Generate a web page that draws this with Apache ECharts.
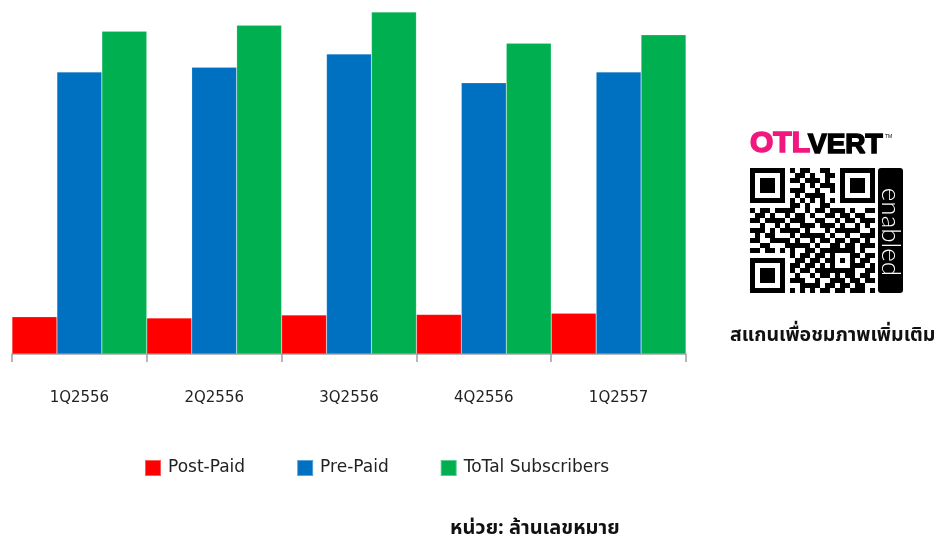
<!DOCTYPE html>
<html>
<head>
<meta charset="utf-8">
<title>Subscribers</title>
<script src="https://cdn.jsdelivr.net/npm/echarts@6/dist/echarts.min.js"></script>
<style>
  html, body { margin: 0; padding: 0; background: #fff; }
  #main { width: 935px; height: 538px; }
</style>
</head>
<body>
<div id="main"></div>
<script>
  // quarters (Thai Buddhist years)
  const quarters = ['1Q2556', '2Q2556', '3Q2556', '4Q2556', '1Q2557'];
  // millions of numbers
  const postPaid = [3.1, 3.0, 3.25, 3.3, 3.4];
  const prePaid = [23.5, 23.9, 25.0, 22.6, 23.5];
  const totalSubs = [26.9, 27.4, 28.5, 25.9, 26.6];

  // qr decoration pattern (25 x 25)
  const qrRows = [
    '1111111' + '0' + '101100110' + '0' + '1111111',
    '1000001' + '0' + '011010011' + '0' + '1000001',
    '1011101' + '0' + '110111010' + '0' + '1011101',
    '1011101' + '0' + '001010111' + '0' + '1011101',
    '1011101' + '0' + '111001001' + '0' + '1011101',
    '1000001' + '0' + '010111100' + '0' + '1000001',
    '1111111' + '0' + '101010101' + '0' + '1111111',
    '00000000' + '110100110' + '00000000',
    '1011011110010110111010011',
    '0110100101101001101101100',
    '1101111011100110010110111',
    '0010010100111011101001010',
    '1110101111010001011111001',
    '0101100010111110100100111',
    '1100111101001011011011010',
    '0011000111110100110110111',
    '1101101010011011' + '11111' + '0100',
    '00000000' + '10110110' + '10001' + '1011',
    '1111111' + '0' + '01101101' + '10101' + '0110',
    '1000001' + '0' + '11011010' + '10001' + '1101',
    '1011101' + '0' + '10110111' + '11111' + '0011',
    '1011101' + '0' + '01001011' + '010110110',
    '1011101' + '0' + '11100100' + '111011011',
    '1000001' + '0' + '00111101' + '101101100',
    '1111111' + '0' + '10101011' + '011011101'
  ];

  const thaiFont = '"Noto Sans Thai", "Tahoma", "DejaVu Sans", "Noto Sans", sans-serif';
  const labelFont = '"DejaVu Sans", "Noto Sans", sans-serif';
  const logoFont = '"Liberation Sans", Arial, sans-serif';

  const qrCells = [];
  qrRows.forEach(function (row, r) {
    for (let c = 0; c < row.length; c++) {
      if (row[c] === '1') {
        qrCells.push({
          type: 'rect',
          shape: { x: 750 + c * 5, y: 168 + r * 5, width: 5, height: 5 },
          style: { fill: '#000' },
          silent: true
        });
      }
    }
  });

  const chart = echarts.init(document.getElementById('main'));
  chart.setOption({
    animation: false,
    backgroundColor: '#fff',
    grid: { left: 12, right: 249, top: 6, bottom: 184 },
    legend: {
      left: 139,
      top: 454,
      icon: 'rect',
      itemWidth: 16,
      itemHeight: 16,
      itemGap: 51,
      textStyle: { fontSize: 17, color: '#222', fontFamily: labelFont, padding: [0, 0, 0, 2] },
      data: ['Post-Paid', 'Pre-Paid', 'ToTal Subscribers']
    },
    xAxis: {
      type: 'category',
      data: quarters,
      axisLine: { lineStyle: { color: '#a0a0a0', width: 1.5 } },
      axisTick: { show: true, length: 8, interval: 0, lineStyle: { color: '#a0a0a0', width: 1.5 } },
      axisLabel: { margin: 37, fontSize: 15, color: '#222', fontFamily: labelFont }
    },
    yAxis: {
      type: 'value',
      min: 0,
      max: 29,
      show: false,
      splitLine: { show: false }
    },
    series: [
      {
        name: 'Post-Paid', type: 'bar', data: postPaid,
        barGap: '0%', barCategoryGap: '0%',
        itemStyle: { color: '#ff0000', borderColor: 'rgba(255,255,255,0.35)', borderWidth: 0.5 }
      },
      {
        name: 'Pre-Paid', type: 'bar', data: prePaid,
        barGap: '0%', barCategoryGap: '0%',
        itemStyle: { color: '#0070c0', borderColor: 'rgba(255,255,255,0.35)', borderWidth: 0.5 }
      },
      {
        name: 'ToTal Subscribers', type: 'bar', data: totalSubs,
        barGap: '0%', barCategoryGap: '0%',
        itemStyle: { color: '#00b050', borderColor: 'rgba(255,255,255,0.35)', borderWidth: 0.5 }
      }
    ],
    graphic: [
      {
        type: 'text', x: 750, y: 159, silent: true,
        style: {
          text: 'OTL', fill: '#f0187f', stroke: '#f0187f', lineWidth: 1.6,
          fontSize: 30, fontWeight: 'bold', fontFamily: logoFont,
          align: 'left', verticalAlign: 'bottom'
        }
      },
      {
        type: 'text', x: 808, y: 159, silent: true,
        style: {
          text: 'VERT', fill: '#000', stroke: '#000', lineWidth: 1.6,
          fontSize: 28, fontWeight: 'bold', fontFamily: logoFont,
          align: 'left', verticalAlign: 'bottom'
        }
      },
      {
        type: 'text', left: 885, top: 134, silent: true,
        style: { text: 'TM', fill: '#000', fontSize: 5, fontFamily: 'Arial, sans-serif' }
      },
      {
        type: 'group', silent: true, children: qrCells
      },
      {
        type: 'rect', silent: true,
        shape: { x: 878, y: 168, width: 25, height: 125, r: 3 },
        style: { fill: '#000' }
      },
      {
        type: 'text', silent: true,
        x: 890.5, y: 232, rotation: -Math.PI / 2,
        style: {
          text: 'enabled', fill: '#fff', fontSize: 26, fontWeight: 300,
          fontFamily: 'Lato, "Open Sans", sans-serif',
          align: 'center', verticalAlign: 'middle'
        }
      },
      {
        type: 'text', left: 730, top: 327, silent: true,
        style: { text: 'สแกนเพื่อชมภาพเพิ่มเติม', fill: '#111', fontSize: 19.5, fontWeight: 'bold', fontFamily: thaiFont }
      },
      {
        type: 'text', left: 450, top: 520, silent: true,
        style: { text: 'หน่วย: ล้านเลขหมาย', fill: '#111', fontSize: 20, fontWeight: 'bold', fontFamily: thaiFont }
      }
    ]
  });
</script>
</body>
</html>
